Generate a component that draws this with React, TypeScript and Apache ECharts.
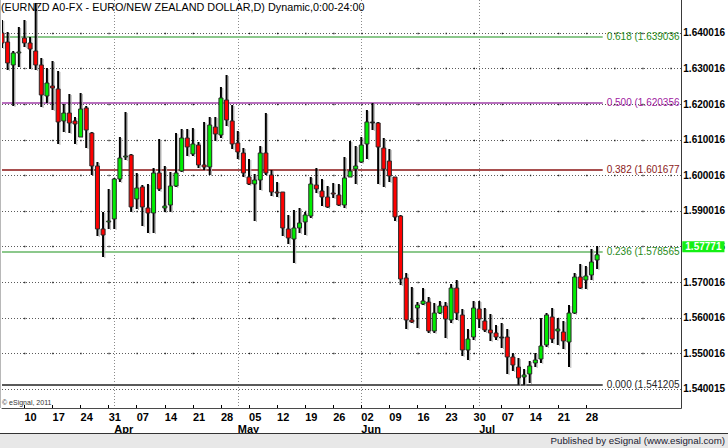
import React, { useEffect, useRef } from "react";
import * as echarts from "echarts";

const FONT = '"Liberation Sans", Arial, sans-serif';

// trading dates (2011), MM-DD
const dates = [
  "03-04","03-07","03-08","03-09","03-10","03-11","03-14","03-15","03-16","03-17","03-18","03-21","03-22","03-23","03-24","03-25","03-28","03-29","03-30","03-31",
  "04-01","04-04","04-05","04-06","04-07","04-08","04-11","04-12","04-13","04-14","04-15","04-18","04-19","04-20","04-21","04-22","04-25","04-26","04-27","04-28","04-29",
  "05-02","05-03","05-04","05-05","05-06","05-09","05-10","05-11","05-12","05-13","05-16","05-17","05-18","05-19","05-20","05-23","05-24","05-25","05-26","05-27","05-30","05-31",
  "06-01","06-02","06-03","06-06","06-07","06-08","06-09","06-10","06-13","06-14","06-15","06-16","06-17","06-20","06-21","06-22","06-23","06-24","06-27","06-28","06-29","06-30",
  "07-01","07-04","07-05","07-06","07-07","07-08","07-11","07-12","07-13","07-14","07-15","07-18","07-19","07-20","07-21","07-22","07-25","07-26","07-27","07-28","07-29",
  "08-01",
];
// empty future slots on the right of the chart
const futureDates = ["08-02","08-03","08-04","08-05","08-08","08-09","08-10","08-11","08-12","08-15","08-16","08-17","08-18","08-19","08-22"];

const tickDates = ["03-10","03-17","03-24","03-31","04-07","04-14","04-21","04-28","05-05","05-12","05-19","05-26","06-02","06-09","06-16","06-23","06-30","07-07","07-14","07-21","07-28"];
const monthMarks = ["04-01","05-03","06-02","07-01"];
const monthNames = ["Apr","May","Jun","Jul"];

const opens = [
  1.64002,1.63749,1.63103,1.63440,1.63861,1.63721,1.63496,1.63103,1.62232,1.62513,
  1.62429,1.61530,1.61754,1.61530,1.61080,1.61895,1.61193,1.60266,1.58496,1.58693,
  1.58777,1.59900,1.60518,1.60575,1.59339,1.59676,1.59086,1.58945,1.60069,1.59086,
  1.59170,1.59704,1.60125,1.61052,1.60603,1.60855,1.60294,1.60238,1.61361,1.61136,
  1.62120,1.61530,1.60912,1.60631,1.59957,1.59760,1.59872,1.60631,1.60013,1.59535,
  1.59535,1.58496,1.58215,1.58524,1.58693,1.58861,1.59732,1.59563,1.59395,1.59507,
  1.59451,1.59170,1.59957,1.60181,1.60378,1.60884,1.61502,1.61474,1.60771,1.60406,
  1.59957,1.58861,1.57120,1.55940,1.56277,1.56389,1.56445,1.55631,1.56136,1.56333,
  1.55940,1.56839,1.56080,1.55097,1.55462,1.56249,1.55912,1.55659,1.55575,1.55462,
  1.55462,1.54900,1.54619,1.54339,1.54423,1.54732,1.54844,1.55238,1.56024,1.55631,
  1.55603,1.55322,1.56136,1.57148,1.57063,1.57204,1.57625,
];
const closes = [
  1.63721,1.63159,1.63440,1.63468,1.63721,1.63552,1.63103,1.62260,1.62597,1.62457,
  1.61502,1.61754,1.61474,1.61446,1.61867,1.61277,1.60266,1.58496,1.58327,1.58721,
  1.59900,1.60490,1.60546,1.59114,1.59648,1.59114,1.58945,1.60069,1.59620,1.59142,
  1.59704,1.60069,1.61052,1.60799,1.60884,1.60294,1.60238,1.61417,1.61165,1.62176,
  1.61558,1.60884,1.60659,1.60069,1.59760,1.59872,1.60631,1.60069,1.59535,1.59525,
  1.58524,1.58243,1.58524,1.58665,1.58889,1.59760,1.59620,1.59395,1.59114,1.59500,
  1.59170,1.59929,1.60125,1.60266,1.60855,1.61502,1.61502,1.60799,1.60181,1.59985,
  1.58833,1.57091,1.55940,1.55884,1.56361,1.56473,1.55631,1.56136,1.56333,1.55968,
  1.56839,1.56136,1.55097,1.55406,1.56277,1.55968,1.55659,1.55575,1.55462,1.55462,
  1.54900,1.54676,1.54311,1.54395,1.54648,1.54816,1.55209,1.56080,1.55406,1.55687,
  1.55350,1.56136,1.57148,1.56839,1.57176,1.57569,1.57771,
];
const lows = [
  1.63580,1.62962,1.61951,1.63046,1.63608,1.62990,1.62962,1.61923,1.62035,1.61839,
  1.60884,1.61221,1.61193,1.60884,1.61080,1.60771,1.60013,1.58299,1.57709,1.58496,
  1.58496,1.59816,1.60434,1.58973,1.59058,1.58580,1.58383,1.58383,1.59563,1.58973,
  1.58973,1.59676,1.60097,1.60546,1.60546,1.60209,1.60153,1.60013,1.60968,1.61052,
  1.61389,1.60743,1.60462,1.59957,1.59732,1.58721,1.59591,1.60013,1.59423,1.59395,
  1.58299,1.58074,1.57541,1.58383,1.58327,1.58805,1.59507,1.59142,1.59086,1.59367,
  1.59142,1.59086,1.59957,1.59760,1.60350,1.60462,1.61277,1.59760,1.59676,1.59816,
  1.58721,1.56923,1.55687,1.55855,1.55715,1.56361,1.55575,1.55575,1.56108,1.55434,
  1.55855,1.55940,1.54929,1.54816,1.55378,1.55715,1.55603,1.55350,1.55378,1.55153,
  1.54423,1.54507,1.54121,1.54121,1.54170,1.54619,1.54732,1.55181,1.55294,1.55238,
  1.55125,1.54619,1.56108,1.56811,1.56811,1.57063,1.57372,
];
const highs = [
  1.64367,1.64030,1.63496,1.64170,1.64367,1.63889,1.64844,1.63299,1.63018,1.63215,
  1.62934,1.62007,1.62288,1.61642,1.62316,1.61951,1.61221,1.60378,1.58973,1.59620,
  1.59929,1.61080,1.61782,1.60603,1.60069,1.59732,1.59760,1.60209,1.61024,1.60266,
  1.60097,1.61193,1.61305,1.61305,1.61333,1.60940,1.61502,1.61642,1.61642,1.62485,
  1.62822,1.61979,1.61249,1.60771,1.60462,1.60041,1.60827,1.61754,1.60153,1.59816,
  1.59535,1.58889,1.59030,1.59086,1.58973,1.59957,1.60209,1.59900,1.59704,1.59788,
  1.59760,1.60518,1.60968,1.60827,1.61080,1.61839,1.62035,1.61502,1.61052,1.60743,
  1.59957,1.58889,1.57260,1.56867,1.56445,1.56839,1.56586,1.56417,1.56473,1.56445,
  1.56951,1.57063,1.56249,1.55687,1.56473,1.56473,1.56277,1.56108,1.55799,1.55855,
  1.55687,1.55013,1.54872,1.54563,1.54788,1.55013,1.55996,1.56136,1.56277,1.55996,
  1.55912,1.56361,1.57260,1.57513,1.57457,1.57934,1.58018,
];

const yTickValues = [1.5400155,1.5500155,1.5600155,1.5700155,1.5800155,1.5900155,1.6000155,1.6100155,1.6200155,1.6300155,1.6400155];
const yTickLabels = ["1.540015","1.550016","1.560016","1.570016","1.580016","1.590016","1.600016","1.610016","1.620016","1.630016","1.640016"];
const yHalfValues = [1.5450155,1.5550155,1.5650155,1.5750155,1.5850155,1.5950155,1.6050155,1.6150155,1.6250155,1.6350155,1.6450155];

const fibPrices = [1.639036, 1.620356, 1.601677, 1.578565, 1.541205];
const fibLabels = ["0.618 (1.639036", "0.500 (1.620356", "0.382 (1.601677", "0.236 (1.578565", "0.000 (1.541205"];
const fibLineColors = ["#8cc88c", "#a040a8", "#8b1414", "#8cc88c", "#5a5a5a"];
const fibTextColors = ["#1f8a18", "#a020a0", "#8b1a1a", "#1f8a18", "#262626"];
const fibLineWidths = [2, 1.5, 1.5, 2, 2];
const fibEndIndex = 107;

const lastPrice = 1.57771;
const lastPriceLabel = "1.57771";

const Y_MIN = 1.534678;
const Y_MAX = 1.649285;

export default function App() {
  const ref = useRef<HTMLDivElement>(null);

  useEffect(() => {
    if (!ref.current) return;
    const chart = echarts.init(ref.current, undefined, { renderer: "svg" });
    const categories = dates.concat(futureDates);
    const candleData = opens.map((o, i) => [i, o, closes[i], lows[i], highs[i]]);

    const markData: any[] = [];
    yTickValues.forEach((v) => {
      markData.push({ yAxis: v, lineStyle: { color: "#5a5a5a", width: 1, type: [1, 2] }, label: { show: false } });
    });
    yHalfValues.forEach((v) => {
      markData.push({ yAxis: v, lineStyle: { color: "#202020", width: 1.3, type: [1.3, 26.8], dashOffset: 5.6 }, label: { show: false } });
    });
    fibPrices.forEach((p, k) => {
      markData.push([
        {
          coord: [0, p],
          lineStyle: { color: fibLineColors[k], width: fibLineWidths[k], type: "solid" },
          label: {
            show: true,
            position: "end",
            formatter: fibLabels[k],
            color: fibTextColors[k],
            fontSize: 10,
            fontFamily: FONT,
            distance: 4,
            padding: [0, 0, 9, 0],
          },
        },
        { coord: [fibEndIndex, p] },
      ]);
    });

    const option: any = {
      animation: false,
      backgroundColor: "#ffffff",
      grid: { left: 2, top: 0, width: 680, height: 408 },
      xAxis: [
        {
          type: "category",
          data: categories,
          boundaryGap: false,
          axisLine: { show: true, lineStyle: { color: "#4a4a4a", width: 1 } },
          axisTick: {
            show: true,
            inside: true,
            length: 3,
            interval: (_i: number, v: string) => tickDates.includes(v),
            lineStyle: { color: "#000" },
          },
          axisLabel: {
            interval: (_i: number, v: string) => tickDates.includes(v),
            formatter: (v: string) => v.slice(3),
            align: "left",
            margin: 3,
            color: "#000",
            fontWeight: "bold",
            fontSize: 11,
            fontFamily: FONT,
          },
          splitLine: {
            show: true,
            interval: (_i: number, v: string) => monthMarks.includes(v),
            lineStyle: { color: "#8a8a8a", width: 1, type: [1, 2] },
          },
        },
        {
          type: "category",
          data: categories,
          boundaryGap: false,
          position: "bottom",
          offset: 13,
          axisLine: { show: false },
          axisTick: { show: false },
          splitLine: { show: false },
          axisLabel: {
            interval: (_i: number, v: string) => monthMarks.includes(v),
            formatter: (v: string) => monthNames[monthMarks.indexOf(v)] || "",
            align: "left",
            margin: 2,
            color: "#000",
            fontWeight: "bold",
            fontSize: 11,
            fontFamily: FONT,
          },
        },
      ],
      yAxis: {
        type: "value",
        position: "right",
        min: Y_MIN,
        max: Y_MAX,
        scale: true,
        splitLine: { show: false },
        axisLine: { show: true, lineStyle: { color: "#3a3a3a", width: 1 } },
        axisTick: { show: false },
        axisLabel: {
          customValues: yTickValues,
          formatter: (v: number) => {
            const k = yTickValues.findIndex((t) => Math.abs(t - v) < 1e-6);
            return k >= 0 ? yTickLabels[k] : "";
          },
          margin: 2,
          color: "#000",
          fontWeight: "bold",
          fontSize: 10,
          fontFamily: FONT,
        },
      },
      series: [
        {
          type: "line",
          data: [],
          silent: true,
          z: 1,
          markLine: {
            silent: true,
            symbol: ["none", "none"],
            z: 1,
            animation: false,
            data: markData,
          },
        },
        {
          type: "custom",
          z: 3,
          clip: true,
          silent: true,
          data: candleData,
          encode: { x: 0, y: [1, 2, 3, 4] },
          renderItem: (_params: any, api: any) => {
            const idx = api.value(0);
            const o = api.value(1);
            const c = api.value(2);
            const l = api.value(3);
            const h = api.value(4);
            const pO = api.coord([idx, o]);
            const pC = api.coord([idx, c]);
            const pL = api.coord([idx, l]);
            const pH = api.coord([idx, h]);
            const x = pO[0];
            const top = Math.min(pO[1], pC[1]);
            const bot = Math.max(pO[1], pC[1]);
            const fill = c > o ? "#00ee00" : c < o ? "#ff0000" : "#000000";
            return {
              type: "group",
              children: [
                { type: "line", shape: { x1: x + 1.8, y1: pH[1] + 1, x2: x + 1.8, y2: pL[1] + 1 }, style: { stroke: "#b4b4b4", lineWidth: 1 } },
                { type: "line", shape: { x1: x, y1: pH[1], x2: x, y2: pL[1] }, style: { stroke: "#000000", lineWidth: 2 } },
                { type: "rect", shape: { x: x - 2, y: top, width: 4, height: Math.max(bot - top, 1) }, style: { fill, stroke: "#2a2a2a", lineWidth: 1 } },
              ],
            };
          },
        },
        {
          type: "line",
          data: [],
          silent: true,
          z: 6,
          markLine: {
            silent: true,
            symbol: ["none", "none"],
            z: 6,
            animation: false,
            data: [
              {
                yAxis: lastPrice,
                lineStyle: { color: "rgba(0,0,0,0)", width: 1 },
                label: {
                  show: true,
                  position: "end",
                  formatter: lastPriceLabel,
                  color: "#ffffff",
                  backgroundColor: "#14f014",
                  fontWeight: "bold",
                  fontSize: 10,
                  fontFamily: FONT,
                  distance: 1,
                  padding: [1, 3, 0, 3],
                },
              },
            ],
          },
        },
      ],
      graphic: [
        { type: "line", shape: { x1: 0.5, y1: 0, x2: 0.5, y2: 408 }, style: { stroke: "#b8b8b8", lineWidth: 1 }, z: 10 },
        { type: "rect", shape: { x: 0, y: 434, width: 728, height: 14 }, style: { fill: "#e8e8e8" }, z: 10 },
        { type: "line", shape: { x1: 0, y1: 433.5, x2: 728, y2: 433.5 }, style: { stroke: "#333333", lineWidth: 1 }, z: 10 },
        {
          type: "text",
          right: 3,
          top: 435.5,
          z: 11,
          style: { text: "Published by eSignal (www.esignal.com)", font: `9.7px ${FONT}`, fill: "#202030" },
        },
        {
          type: "text",
          left: 1,
          top: 1,
          z: 0,
          style: { text: "(EURNZD A0-FX - EURO/NEW ZEALAND DOLLAR,D) Dynamic,0:00-24:00", font: `10.8px ${FONT}`, fill: "#000" },
        },
        {
          type: "text",
          left: 2,
          top: 399,
          z: 11,
          style: { text: "\u00a9 eSignal, 2011", font: `7px ${FONT}`, fill: "#333" },
        },
      ],
    };
    chart.setOption(option);
    return () => chart.dispose();
  }, []);

  return (
    <div
      ref={ref}
      style={{ position: "absolute", left: 0, top: 0, width: 728, height: 448, background: "#fff" }}
    />
  );
}
